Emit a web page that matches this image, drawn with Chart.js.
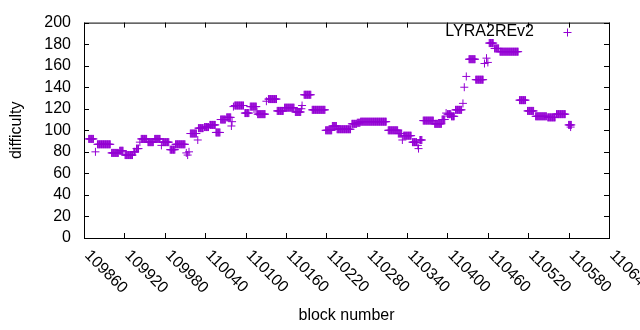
<!DOCTYPE html>
<html>
<head>
    <meta charset="utf-8" />
    <title>LYRA2REv2 difficulty</title>
    <script src="https://cdn.jsdelivr.net/npm/chart.js"></script>
    <style>
        body { margin: 0; background: #fff; }
    </style>
</head>
<body>
    <div style="width: 640px; height: 330px;">
        <canvas id="myChart" width="640" height="330"></canvas>
    </div>

    <script>
        const seriesName = 'LYRA2REv2';

        const runFirst = [109867, 109877, 109880, 109901, 109913, 109921, 109934, 109938, 109943, 109945,
            109955, 109965, 109975, 109977, 109988, 109996, 110012, 110014, 110016, 110018,
            110029, 110030, 110039, 110047, 110056, 110063, 110072, 110079, 110080, 110082,
            110084, 110099, 110107, 110117, 110118, 110131, 110134, 110147, 110158, 110174,
            110183, 110184, 110187, 110199, 110219, 110229, 110236, 110258, 110266, 110271,
            110312, 110327, 110333, 110335, 110348, 110356, 110357, 110359, 110364, 110381,
            110392, 110398, 110400, 110406, 110412, 110423, 110425, 110428, 110432, 110442,
            110455, 110458, 110460, 110462, 110470, 110478, 110507, 110519, 110531, 110549,
            110562, 110580, 110583];
        const runLast = [109874, 109877, 109899, 109911, 109918, 109932, 109936, 109941, 109943, 109953,
            109963, 109973, 109975, 109986, 109995, 110010, 110012, 110014, 110016, 110027,
            110029, 110037, 110045, 110055, 110062, 110070, 110078, 110079, 110080, 110082,
            110097, 110105, 110116, 110117, 110129, 110131, 110146, 110156, 110172, 110182,
            110183, 110184, 110197, 110218, 110228, 110235, 110256, 110265, 110270, 110309,
            110326, 110332, 110333, 110346, 110354, 110356, 110357, 110362, 110379, 110391,
            110396, 110398, 110405, 110410, 110421, 110423, 110425, 110428, 110441, 110453,
            110455, 110458, 110460, 110468, 110476, 110505, 110516, 110528, 110547, 110560,
            110575, 110584, 110583];
        const runDifficulty = [92, 80, 87, 79, 81, 77, 80, 83, 89, 92,
            89, 92, 86, 89, 82, 87, 79, 77, 80, 97,
            91, 102, 103, 105, 98, 110, 112, 104, 108, 122,
            123, 116, 122, 117, 115, 127, 129, 118, 121, 117,
            120, 123, 133, 119, 100, 104, 101, 106, 107, 108,
            100, 97, 91, 95, 89, 86, 83, 91, 109, 106,
            110, 116, 115, 113, 119, 125, 140, 150, 166, 147,
            162, 167, 163, 181, 176, 173, 128, 118, 113, 112,
            115, 105, 103];

        const xTickValues = [109860, 109920, 109980, 110040, 110100, 110160, 110220,
            110280, 110340, 110400, 110460, 110520, 110580, 110640];
        const yTickValues = [0, 20, 40, 60, 80, 100, 120, 140, 160, 180, 200];

        const purple = '#9400d3';
        const fontFamily = '"Liberation Sans", Arial, sans-serif';

        const points = [];
        for (let i = 0; i < runFirst.length; i++) {
            for (let b = runFirst[i]; b <= runLast[i]; b++) {
                points.push({ x: b, y: runDifficulty[i] });
            }
        }

        // gnuplot look: closed border, inward ticks, rotated x labels, key on the right
        const gnuplotFrame = {
            id: 'gnuplotFrame',
            afterDraw(chart) {
                const { ctx, chartArea: a, scales: { x, y } } = chart;
                ctx.save();
                ctx.strokeStyle = '#000';
                ctx.lineWidth = 1;
                ctx.strokeRect(a.left + 0.5, a.top + 0.5, a.right - a.left, a.bottom - a.top);

                ctx.beginPath();
                xTickValues.forEach(v => {
                    const px = Math.round(x.getPixelForValue(v)) + 0.5;
                    ctx.moveTo(px, a.bottom); ctx.lineTo(px, a.bottom - 5);
                    ctx.moveTo(px, a.top); ctx.lineTo(px, a.top + 5);
                });
                yTickValues.forEach(v => {
                    const py = Math.round(y.getPixelForValue(v)) + 0.5;
                    ctx.moveTo(a.left, py); ctx.lineTo(a.left + 5, py);
                    ctx.moveTo(a.right, py); ctx.lineTo(a.right - 5, py);
                });
                ctx.stroke();

                ctx.fillStyle = '#000';
                ctx.font = '16px ' + fontFamily;
                ctx.textAlign = 'left';
                ctx.textBaseline = 'middle';
                xTickValues.forEach(v => {
                    const px = x.getPixelForValue(v);
                    ctx.save();
                    ctx.translate(px + 3, a.bottom + 15);
                    ctx.rotate(Math.PI / 4);
                    ctx.fillText(String(v), 0, 0);
                    ctx.restore();
                });

                ctx.textAlign = 'right';
                ctx.fillText(seriesName, 534, 32);
                ctx.strokeStyle = purple;
                ctx.beginPath();
                ctx.moveTo(563.5, 32.5); ctx.lineTo(571.5, 32.5);
                ctx.moveTo(567.5, 28.5); ctx.lineTo(567.5, 36.5);
                ctx.stroke();
                ctx.restore();
            }
        };

        Chart.defaults.font.family = fontFamily;
        Chart.defaults.font.size = 16;
        Chart.defaults.color = '#000';

        const ctx = document.getElementById('myChart').getContext('2d');
        new Chart(ctx, {
            type: 'scatter',
            data: {
                datasets: [{
                    label: seriesName,
                    data: points,
                    pointStyle: 'cross',
                    pointRadius: 4,
                    pointBorderWidth: 1,
                    borderColor: purple,
                    backgroundColor: purple
                }]
            },
            options: {
                responsive: false,
                animation: false,
                events: [],
                layout: { autoPadding: false, padding: { top: 19, right: 31, bottom: 0, left: 0 } },
                plugins: { legend: { display: false }, tooltip: { enabled: false } },
                scales: {
                    x: {
                        type: 'linear',
                        min: 109860,
                        max: 110640,
                        grid: { display: false, drawTicks: false },
                        border: { display: false },
                        ticks: { display: false },
                        afterBuildTicks: s => { s.ticks = xTickValues.map(v => ({ value: v })); },
                        afterFit: s => { s.height = 92; },
                        title: { display: true, text: 'block number', padding: { top: 0, bottom: 5 } }
                    },
                    y: {
                        min: 0,
                        max: 200,
                        grid: { display: false, drawTicks: false },
                        border: { display: false },
                        ticks: { padding: 13, autoSkip: false },
                        afterBuildTicks: s => { s.ticks = yTickValues.map(v => ({ value: v })); },
                        afterFit: s => { s.width = 84; },
                        title: { display: true, text: 'difficulty', padding: { top: 7, bottom: 0 } }
                    }
                }
            },
            plugins: [gnuplotFrame]
        });
    </script>
</body>
</html>
